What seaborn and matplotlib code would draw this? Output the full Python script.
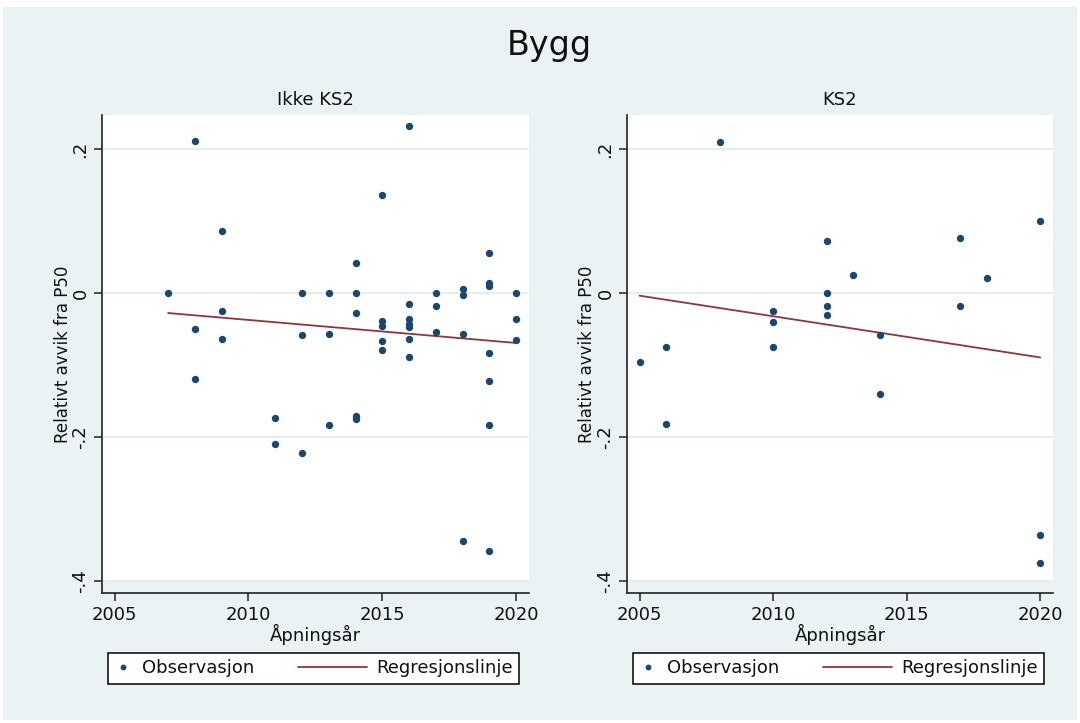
import numpy as np
import pandas as pd
import matplotlib
matplotlib.use("Agg")
import matplotlib.pyplot as plt
import seaborn as sns
from matplotlib.legend_handler import HandlerLine2D
from matplotlib.lines import Line2D
from matplotlib.patches import Rectangle

# Opening year and relative deviation from P50 — projects without KS2
ikke_year = [2007,
             2008, 2008, 2008,
             2009, 2009, 2009,
             2011, 2011,
             2012, 2012, 2012,
             2013, 2013, 2013,
             2014, 2014, 2014, 2014, 2014,
             2015, 2015, 2015, 2015, 2015,
             2016, 2016, 2016, 2016, 2016, 2016, 2016,
             2017, 2017, 2017,
             2018, 2018, 2018, 2018,
             2019, 2019, 2019, 2019, 2019, 2019, 2019,
             2020, 2020, 2020]
ikke_dev = [0.000,
            0.212, -0.050, -0.119,
            0.087, -0.025, -0.063,
            -0.173, -0.209,
            0.000, -0.058, -0.221,
            0.000, -0.056, -0.183,
            0.042, 0.000, -0.027, -0.170, -0.175,
            0.136, -0.038, -0.045, -0.066, -0.079,
            0.232, -0.015, -0.035, -0.042, -0.047, -0.063, -0.088,
            0.000, -0.018, -0.053,
            0.006, -0.002, -0.056, -0.344,
            0.056, 0.015, 0.010, -0.083, -0.122, -0.183, -0.357,
            0.000, -0.035, -0.065]

# Projects with KS2
ks2_year = [2005,
            2006, 2006,
            2008,
            2010, 2010, 2010,
            2012, 2012, 2012, 2012,
            2013,
            2014, 2014,
            2017, 2017,
            2018,
            2020, 2020, 2020]
ks2_dev = [-0.096,
           -0.074, -0.181,
           0.210,
           -0.025, -0.040, -0.074,
           0.072, 0.000, -0.017, -0.030,
           0.026,
           -0.058, -0.140,
           0.077, -0.017,
           0.021,
           0.100, -0.336, -0.374]

main_title = "Bygg"
panel_titles = ["Ikke KS2", "KS2"]
x_label = "Åpningsår"
y_label = "Relativt avvik fra P50"
legend_labels = ["Observasjon", "Regresjonslinje"]
xticks = [2005, 2010, 2015, 2020]
yticks = [-0.4, -0.2, 0.0, 0.2]
ytick_labels = ["-.4", "-.2", "0", ".2"]

df = pd.concat([
    pd.DataFrame({"year": ikke_year, "dev": ikke_dev, "group": panel_titles[0]}),
    pd.DataFrame({"year": ks2_year, "dev": ks2_dev, "group": panel_titles[1]}),
], ignore_index=True)

BG = "#EAF2F3"
NAVY = "#1A476F"
MAROON = "#90353B"
GRID = "#E3ECF0"
INK = "#111111"

sns.set_theme(style="ticks")
plt.rcParams["font.family"] = ["DejaVu Sans"]
plt.rcParams["text.color"] = INK
plt.rcParams["axes.labelcolor"] = INK
plt.rcParams["xtick.color"] = INK
plt.rcParams["ytick.color"] = INK


class WideLine(HandlerLine2D):
    """Line legend handle that extends further to the left than the handle box."""

    def __init__(self, extra, **kw):
        super().__init__(**kw)
        self.extra = extra

    def get_xdata(self, legend, xdescent, ydescent, width, height, fontsize):
        xdata, xmarker = super().get_xdata(legend, xdescent, ydescent, width, height, fontsize)
        return [xdata[0] - self.extra * fontsize, xdata[1]], xmarker


W, H = 1080, 723
fig = plt.figure(figsize=(W / 100, H / 100), dpi=100)
fig.patch.set_facecolor("white")
fig.add_artist(Rectangle((3 / W, 3 / H), 1074 / W, 713 / H, transform=fig.transFigure,
                         facecolor=BG, edgecolor="none", zorder=-10))

ax_boxes = [(102, 427), (627, 426)]
ax_top, ax_bottom = 115, 593
xlim = (2004.53, 2020.48)
ylim = (-0.416, 0.2476)

fig.text(0.509, 1 - 45 / H, main_title, ha="center", va="center", fontsize=24, color=INK)

for (left, width), title in zip(ax_boxes, panel_titles):
    ax = fig.add_axes([left / W, 1 - ax_bottom / H, width / W, (ax_bottom - ax_top) / H])
    ax.set_facecolor(BG)
    ax.axhspan(-0.4, ylim[1], color="white", zorder=0.1, lw=0)
    sub = df[df["group"] == title]

    sns.regplot(data=sub, x="year", y="dev", ax=ax, scatter=False, ci=None,
                color=MAROON, line_kws={"lw": 1.3, "zorder": 2})
    sns.scatterplot(data=sub, x="year", y="dev", ax=ax, color=NAVY, s=28,
                    linewidth=0, zorder=3, legend=False)

    ax.set_xlim(*xlim)
    ax.set_ylim(*ylim)
    ax.set_xticks(xticks)
    ax.set_xticklabels([str(t) for t in xticks], fontsize=13)
    ax.set_yticks(yticks)
    ax.set_yticklabels(ytick_labels, rotation=90, va="center", fontsize=13)
    ax.grid(axis="y", color=GRID, lw=1.3)
    ax.grid(axis="x", visible=False)
    ax.set_axisbelow(True)
    ax.tick_params(direction="out", length=5.5, width=1.1, pad=3.5, colors="#222222",
                   labelcolor=INK)
    for side in ("top", "right"):
        ax.spines[side].set_visible(False)
    for side in ("left", "bottom"):
        ax.spines[side].set_color("#222222")
        ax.spines[side].set_linewidth(1.2)

    ax.set_xlabel(x_label, fontsize=13, labelpad=0)
    ax.set_ylabel(y_label, fontsize=12, labelpad=0)
    ax.set_title(title, fontsize=13, pad=7, color=INK)

    obs_handle = Line2D([], [], ls="none", marker="o", ms=4.2, color=NAVY, mew=0)
    reg_handle = Line2D([], [], color=MAROON, lw=1.3)
    ax.legend([obs_handle, reg_handle], legend_labels, ncol=2, loc="upper left",
              bbox_to_anchor=((left + 6) / W, 1 - 653 / H), bbox_transform=fig.transFigure,
              borderaxespad=0, frameon=True, fancybox=False, edgecolor="black",
              facecolor="white", framealpha=1, fontsize=13, handlelength=1.0,
              handletextpad=0.55, columnspacing=5.2, borderpad=0.35,
              handler_map={reg_handle: WideLine(extra=2.8)})
    ax.get_legend().get_frame().set_linewidth(1.1)

fig.savefig("out.png", dpi=100, facecolor=fig.get_facecolor())
